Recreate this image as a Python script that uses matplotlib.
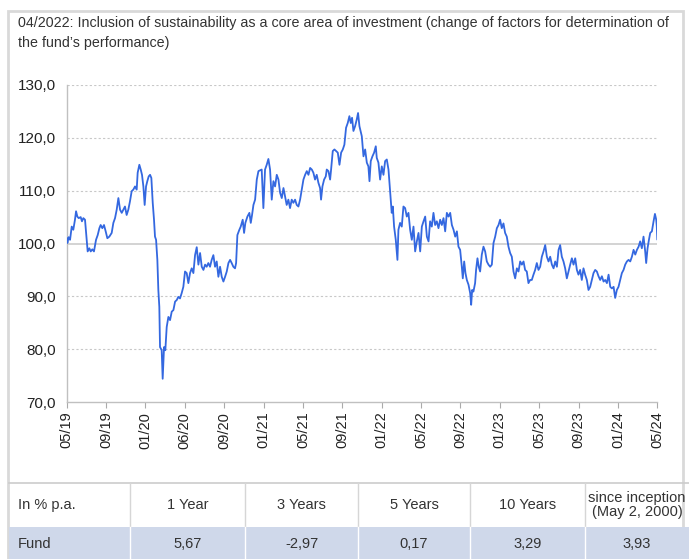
import matplotlib
matplotlib.use("Agg")
import matplotlib.pyplot as plt
from matplotlib.patches import Rectangle

plt.rcParams['font.family'] = ['Liberation Sans', 'DejaVu Sans']

# Werte (Monate seit 05/2019, indexierter Fondswert)
months = [
    0.00, 0.07, 0.20, 0.34, 0.51, 0.67, 0.84, 0.95, 1.08, 1.22, 1.42, 1.55, 1.69, 1.86,
    2.03, 2.13, 2.30, 2.44, 2.60, 2.77, 2.98, 3.15, 3.32, 3.45, 3.62, 3.79, 3.96, 4.13,
    4.33, 4.57, 4.74, 4.91, 5.08, 5.25, 5.42, 5.59, 5.76, 5.92, 6.09, 6.26, 6.43, 6.60,
    6.77, 6.94, 7.11, 7.21, 7.38, 7.52, 7.65, 7.79, 7.92, 8.06, 8.19, 8.33, 8.47, 8.60,
    8.74, 8.87, 8.97, 9.08, 9.21, 9.31, 9.41,
    9.48, 9.65, 9.75, 9.89, 10.02, 10.16, 10.33, 10.50, 10.67, 10.84, 11.01, 11.18, 11.34,
    11.51, 11.68, 11.85, 12.02, 12.19, 12.36, 12.53, 12.70, 12.87, 13.04, 13.21, 13.38,
    13.55, 13.72, 13.89, 14.06, 14.22, 14.39, 14.56, 14.73, 14.90, 15.07, 15.24, 15.41,
    15.58, 15.75, 15.92, 16.09, 16.26, 16.43, 16.60, 16.76, 16.93, 17.10, 17.21, 17.34,
    17.54, 17.68, 17.88, 18.02, 18.15, 18.36, 18.56, 18.70, 18.83, 18.97, 19.14, 19.31,
    19.48,
    19.81, 19.98, 20.15, 20.32, 20.49, 20.66, 20.83, 21.00, 21.17, 21.34, 21.51, 21.68,
    21.85, 22.02, 22.19, 22.35, 22.52, 22.69, 22.86, 23.03, 23.20, 23.37, 23.54, 23.71,
    23.88, 24.05, 24.22, 24.39, 24.56, 24.73, 24.90, 25.06, 25.23, 25.40, 25.57, 25.74,
    25.84, 25.98, 26.15, 26.32, 26.42, 26.59, 26.76, 26.86, 27.03, 27.20, 27.37, 27.54,
    27.71, 27.88, 28.05, 28.21, 28.38, 28.55, 28.72, 28.86, 28.99, 29.13, 29.30, 29.47,
    29.60, 29.74,
    29.98, 30.15, 30.32, 30.49, 30.65, 30.76, 30.89, 31.06, 31.23, 31.40, 31.50, 31.67,
    31.84, 32.01, 32.18, 32.35, 32.52, 32.69, 32.86, 33.02, 33.13, 33.26, 33.43, 33.60,
    33.70, 33.87, 34.04, 34.21, 34.38, 34.55, 34.72, 34.89, 35.06, 35.23, 35.40, 35.57,
    35.74, 35.91, 36.08, 36.25, 36.42, 36.59, 36.76, 36.92, 37.09, 37.26, 37.43, 37.60,
    37.77, 37.94, 38.11, 38.28, 38.45, 38.62, 38.79, 38.96, 39.13, 39.30, 39.47, 39.64,
    39.80,
    39.97, 40.14, 40.24, 40.38, 40.51, 40.65, 40.82, 40.99, 41.09, 41.19, 41.32, 41.49,
    41.59, 41.73, 41.86, 42.00, 42.17, 42.34, 42.51, 42.68, 42.85, 43.02, 43.19, 43.36,
    43.53, 43.70, 43.87, 44.03, 44.20, 44.37, 44.54, 44.71, 44.88, 45.05, 45.22, 45.39,
    45.56, 45.73, 45.90, 46.07, 46.24, 46.41, 46.57, 46.74, 46.91, 47.08, 47.25, 47.42,
    47.59, 47.76, 47.93, 48.10, 48.27, 48.44, 48.61, 48.78, 48.95, 49.12, 49.29, 49.46,
    49.63, 49.80, 49.97,
    50.13, 50.30, 50.47, 50.64, 50.81, 50.98, 51.15, 51.32, 51.49, 51.66, 51.83, 51.99,
    52.16, 52.33, 52.50, 52.67, 52.84, 53.01, 53.18, 53.35, 53.52, 53.69, 53.86, 54.03,
    54.20, 54.37, 54.54, 54.71, 54.88, 55.05, 55.22, 55.39, 55.56, 55.72, 55.89, 56.06,
    56.23, 56.40, 56.57, 56.74, 56.91, 57.08, 57.25, 57.42, 57.59, 57.76, 57.93, 58.10,
    58.26, 58.43, 58.60, 58.77, 58.87, 59.01, 59.15, 59.28, 59.45, 59.62, 59.76, 59.89,
    59.95, 60.00,
]
nav = [
    101.0, 100.1, 101.2, 100.7, 103.2, 102.6, 104.5, 106.1, 105.1, 104.8, 105.0, 104.2, 104.8, 104.5,
    100.7, 98.5, 99.1, 98.5, 98.9, 98.5, 100.7, 101.6, 102.9, 103.5, 102.9, 103.5, 102.3, 101.0,
    101.3, 102.0, 103.9, 104.8, 106.4, 108.6, 106.4, 105.8, 106.4, 107.0, 105.4, 106.4, 108.0, 109.9,
    110.2, 110.8, 110.2, 113.4, 114.9, 114.0, 113.0, 110.8, 107.3, 110.8, 111.8, 112.7, 113.0, 112.4,
    107.7, 104.5, 101.3, 100.7, 96.9, 91.2, 88.0,
    80.4, 79.8, 74.4, 80.4, 79.8, 84.2, 86.1, 85.5, 87.1, 87.4, 89.0, 89.3, 89.9,
    89.6, 90.6, 91.8, 94.7, 94.4, 92.5, 94.4, 95.3, 94.4, 97.8, 99.3, 96.0,
    98.2, 95.6, 95.0, 96.0, 95.6, 96.3, 95.6, 96.9, 97.8, 95.6, 96.6, 93.7,
    95.6, 93.7, 92.8, 93.7, 94.7, 96.3, 96.9, 96.3, 95.6, 95.3, 96.3, 101.6,
    102.6, 103.2, 104.5, 102.0, 103.9, 105.1, 105.8, 103.9, 105.4, 107.3, 108.3, 112.1,
    113.7,
    114.0, 106.7, 114.0, 114.9, 116.0, 114.0, 108.3, 111.8, 110.8, 113.0, 112.1, 109.6,
    108.6, 110.5, 108.9, 107.3, 108.3, 106.7, 108.3, 107.7, 108.3, 107.3, 107.0, 108.3,
    110.2, 112.1, 113.0, 113.7, 113.0, 114.3, 114.0, 113.4, 112.1, 113.0, 111.5, 110.5,
    108.3, 110.8, 112.1, 112.7, 114.0, 113.7, 112.1, 114.0, 117.5, 117.8, 117.5, 117.2,
    114.9, 117.2, 117.8, 118.7, 121.9, 122.8, 124.1, 122.8, 123.8, 121.3, 122.2, 123.5,
    124.7, 122.2,
    120.3, 116.5, 117.8, 115.3, 114.6, 111.8, 115.6, 116.5, 117.2, 118.4, 116.2, 115.3,
    112.1, 114.6, 113.0, 115.6, 115.9, 114.0, 109.9, 105.8, 107.0, 103.2, 100.7, 96.9,
    102.6, 103.9, 103.2, 107.0, 106.7, 105.1, 105.8, 102.6, 100.7, 103.2, 98.5, 100.4,
    102.0, 98.5, 103.2, 104.2, 105.1, 101.3, 100.4, 104.2, 103.2, 105.8, 103.5, 104.2,
    102.9, 104.5, 103.5, 104.8, 102.3, 105.8, 105.1, 105.8, 103.5, 102.6, 101.3, 102.3,
    99.4,
    98.8, 95.6, 93.4, 96.6, 94.4, 93.1, 92.2, 90.6, 88.4, 91.2, 90.9, 92.5,
    95.0, 97.2, 95.6, 94.7, 97.9, 99.4, 98.5, 96.6, 96.0, 95.6, 96.0, 100.1,
    101.3, 102.9, 103.5, 104.5, 102.9, 103.8, 102.0, 101.3, 99.4, 98.2, 97.5, 94.7,
    93.4, 95.3, 94.7, 96.6, 96.0, 96.6, 95.0, 94.7, 92.5, 93.1, 93.1, 94.1,
    95.0, 96.3, 95.0, 95.6, 97.5, 98.5, 99.7, 97.5, 96.6, 97.5, 96.0, 95.3,
    96.6, 95.6, 98.8,
    99.7, 97.5, 96.6, 95.3, 93.4, 94.7, 96.0, 97.2, 96.0, 97.2, 95.0, 94.1,
    95.0, 93.1, 95.3, 94.1, 93.1, 91.2, 91.8, 93.1, 94.4, 95.0, 94.7, 93.8,
    93.1, 93.8, 92.8, 93.1, 92.5, 94.1, 91.8, 91.5, 91.8, 89.7, 91.2, 91.8,
    93.1, 94.4, 95.0, 96.0, 96.6, 96.9, 96.6, 97.5, 98.8, 97.9, 98.8, 99.4,
    100.4, 99.1, 101.3, 98.5, 96.3, 99.1, 100.7, 102.0, 102.3, 104.2, 105.6, 104.5,
    103.2, 100.8,
]

tick_months = [0, 4, 8, 12, 16, 20, 24, 28, 32, 36, 40, 44, 48, 52, 56, 60]
tick_labels = ['05/19', '09/19', '01/20', '06/20', '09/20', '01/21', '05/21', '09/21',
               '01/22', '05/22', '09/22', '01/23', '05/23', '09/23', '01/24', '05/24']
y_ticks = [70, 80, 90, 100, 110, 120, 130]

note = ("04/2022: Inclusion of sustainability as a core area of investment (change of factors for determination of\n"
        "the fund\u2019s performance)")
table_header = ['In % p.a.', '1 Year', '3 Years', '5 Years', '10 Years', 'since inception\n(May 2, 2000)']
table_fund = ['Fund', '5,67', '-2,97', '0,17', '3,29', '3,93']

W, H = 689, 559
fig = plt.figure(figsize=(W / 100, H / 100), dpi=100)
fig.patch.set_facecolor('white')


def fx(x):
    return x / W


def fy(y):
    return 1 - y / H


# Rahmen
fig.add_artist(Rectangle((fx(8), fy(559)), fx(683) - fx(8), fy(11) - fy(559),
                         transform=fig.transFigure, facecolor='white',
                         edgecolor='#d9d9d9', linewidth=2, zorder=-5))

fig.text(fx(18), fy(16), note, ha='left', va='top', fontsize=10.3,
         color='#333333', linespacing=1.55)

# Diagramm
ax = fig.add_axes([fx(66.7), fy(402), fx(657.3) - fx(66.7), fy(85) - fy(402)])
ax.patch.set_alpha(0)
ax.plot(months, nav, color='#3468e0', linewidth=1.3, zorder=3)
ax.set_xlim(0, 60)
ax.set_ylim(70, 130)
ax.set_yticks(y_ticks)
ax.set_yticklabels([f"{v:.1f}".replace('.', ',') for v in y_ticks], fontsize=11, color='#222222')
ax.set_xticks(tick_months)
ax.set_xticklabels(tick_labels, rotation=90, fontsize=10.5, color='#222222')
ax.tick_params(axis='y', length=0, pad=8)
ax.tick_params(axis='x', length=4, color='#aaaaaa', pad=3)
for v in y_ticks:
    if v == 100:
        ax.axhline(v, color='#cccccc', linewidth=1.2, zorder=1)
    elif v != 70:
        ax.axhline(v, color='#c8c8c8', linewidth=0.8, linestyle=(0, (2, 2)), zorder=1)
for s in ['top', 'right']:
    ax.spines[s].set_visible(False)
for s in ['left', 'bottom']:
    ax.spines[s].set_color('#c0c0c0')
    ax.spines[s].set_linewidth(1.0)

# Tabelle
cols = [9, 130, 245, 358, 470, 585, 689]
fig.add_artist(Rectangle((fx(9), fy(559)), 1 - fx(9), fy(527) - fy(559),
                         transform=fig.transFigure, facecolor='#cfd8ea', edgecolor='none'))
fig.add_artist(plt.Line2D([fx(9), 1], [fy(483), fy(483)], transform=fig.transFigure,
                          color='#cccccc', linewidth=1.2))
for c in cols[1:-1]:
    fig.add_artist(plt.Line2D([fx(c), fx(c)], [fy(483), fy(527)], transform=fig.transFigure,
                              color='#d6d6d6', linewidth=1.0))
    fig.add_artist(plt.Line2D([fx(c), fx(c)], [fy(527), fy(559)], transform=fig.transFigure,
                              color='white', linewidth=1.0))

for i, (h, f) in enumerate(zip(table_header, table_fund)):
    if i == 0:
        xpos, ha = fx(18), 'left'
    else:
        xpos, ha = fx((cols[i] + cols[i + 1]) / 2), 'center'
    if i == 5:
        xpos = fx(637)
    fig.text(xpos, fy(505), h, ha=ha, va='center', fontsize=10.5, color='#333333',
             linespacing=1.0)
    fig.text(xpos, fy(544), f, ha=ha, va='center', fontsize=10.5, color='#333333')

fig.savefig('out.png', dpi=100)
